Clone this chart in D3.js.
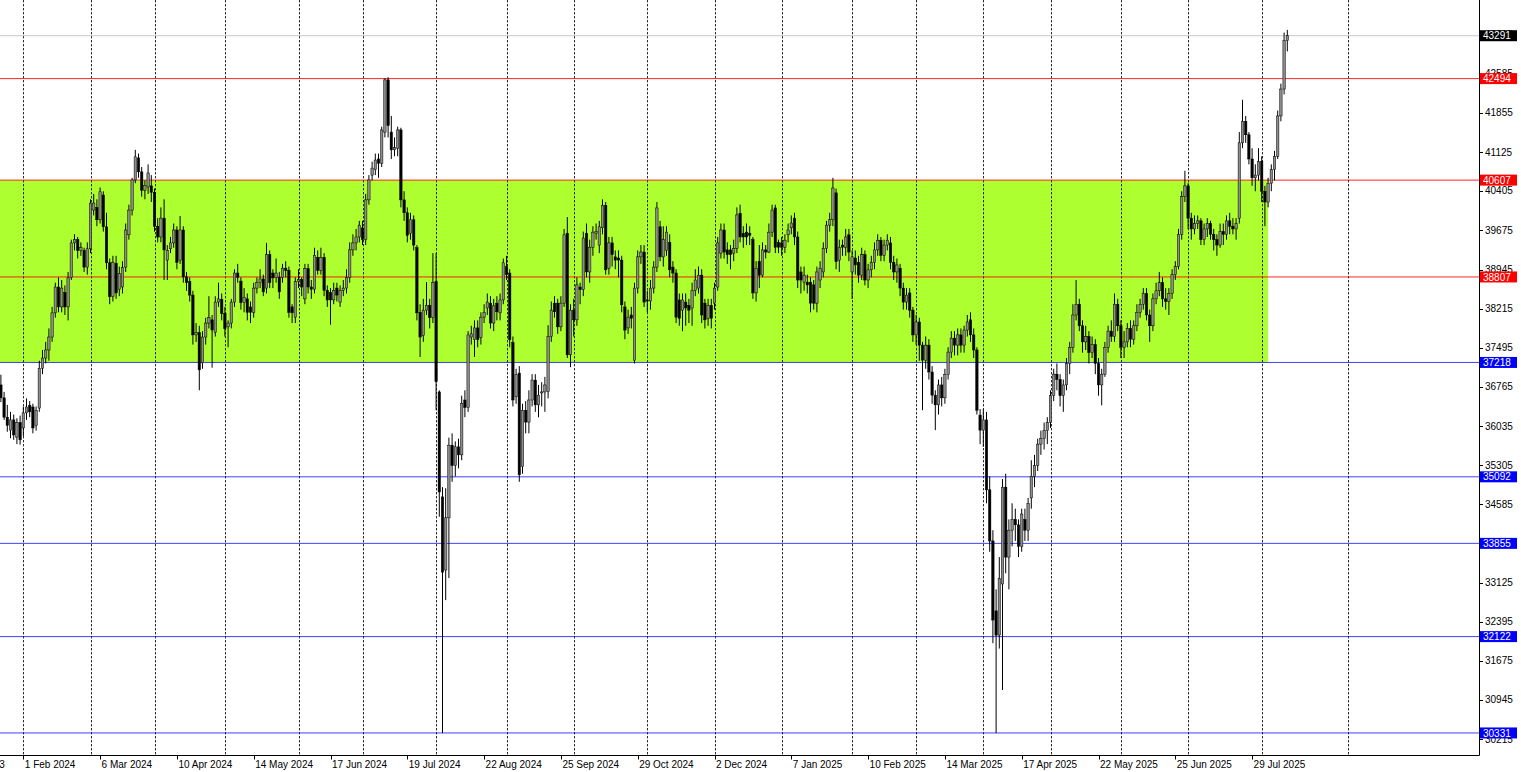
<!DOCTYPE html>
<html><head><meta charset="utf-8">
<script src="https://cdn.jsdelivr.net/npm/d3@7"></script>
<style>
body{margin:0;background:#fff;overflow:hidden}
svg{display:block}
text{font-family:"Liberation Sans",Arial,sans-serif;font-size:10px}
</style>
</head><body>
<svg id="chart" width="1521" height="772"></svg>
<script>
// ---------- DATA ----------
const firstDay = "2024-01-23";
const lastDay = "2025-08-13";
const holidays = ["2023-12-25","2024-01-01","2024-03-29","2024-12-25","2025-01-01","2025-04-18"];

// daily candles [open, high, low, close], one small array per month
const jan24 = [[36800,36990,36480,36560],[36560,36670,36150,36200],[36200,36430,35930,36050],[35960,36300,35810,36150],[36150,36250,35780,35870],[35830,36180,35700,36100],[36100,36230,35690,35780]];
const feb24 = [[36000,36400,35850,36280],[36280,36550,36150,36390],[36420,36500,36200,36300],[36390,36450,35900,36000],[36050,36400,35950,36330],[36370,37250,36300,37110],[37110,37450,37000,37300],[37300,37600,37200,37450],[37450,37850,37250,37690],[37690,38250,37600,38140],[38140,38700,38050,38620],[38620,38800,38150,38250],[38250,38750,38150,38600],[38520,38650,38100,38250],[38250,38900,38000,38790],[38800,39500,38750,39440],[39440,39600,39300,39500],[39500,39550,39150,39300],[39300,39450,39200,39350],[39300,39350,38900,38990],[38990,39450,38850,39330]];
const mar24 = [[39330,40250,39250,40180],[40050,40350,39950,40180],[40100,40250,39750,39870],[39870,40470,39800,40390],[40330,40400,39650,39740],[39740,40000,38950,39070],[39070,39150,38300,38440],[38440,39200,38350,39080],[39060,39200,38400,38510],[38580,39000,38450,38870],[38620,39100,38500,38980],[38990,39800,38900,39680],[39590,40150,39500,40050],[40050,40650,39950,40610],[40610,41170,40550,41040],[41020,41100,40650,40760],[40760,40850,40300,40420],[40420,40600,40250,40510],[40480,40900,40350,40740],[40500,40700,40200,40380]];
const apr24 = [[40380,40450,39650,39750],[39750,39900,39450,39550],[39550,40100,39450,39900],[39900,40250,38750,39310],[39120,39400,38750,39300],[39330,39550,39250,39440],[39440,39800,39350,39680],[39680,39750,38950,39080],[39120,39940,39050,39680],[39680,39750,38700,38810],[38810,38900,38550,38700],[38720,38800,38350,38470],[38470,38550,37550,37730],[37730,37950,37600,37770],[37770,37900,36700,37080],[37210,37800,37100,37690],[37690,38050,37550,37950],[37950,38450,37850,38050],[38010,38100,37120,37820],[37780,38450,37700,38340],[38340,38700,38250,38400],[38390,38500,38000,38130]];
const may24 = [[38130,38250,37700,37850],[37880,38000,37500,37950],[37950,38400,37850,38340],[38340,38950,38250,38880],[38880,39050,38700,38800],[38730,38800,38200,38330],[38330,38600,38150,38430],[38400,38500,38000,38150],[38250,38350,37950,38150],[38150,38700,38050,38600],[38600,38800,38500,38700],[38700,38950,38600,38770],[38770,38850,38450,38530],[38600,39440,38500,39220],[39220,39300,38600,38700],[38880,38950,38600,38790],[38800,39150,38700,38880],[38800,38900,38400,38530],[38800,39050,38700,38970],[38970,39100,38800,38930],[38930,39000,38050,38150],[38250,38300,37950,38140],[38060,38800,37950,38720]];
const jun24 = [[38720,38950,38600,38760],[38760,38800,38450,38620],[38400,39050,38300,38960],[38960,39050,38500,38620],[38620,38750,38400,38580],[38580,39350,38500,39210],[39170,39300,38850,38930],[38930,39350,38850,39170],[39170,39250,38450,38560],[38560,38650,38250,38380],[38520,38600,37920,38380],[38380,38700,38300,38560],[38600,38700,38350,38470],[38340,38650,38250,38560],[38560,38750,38450,38600],[38600,38950,38500,38800],[38800,39450,38700,39310],[39310,39600,39200,39440],[39440,39700,39300,39550],[39550,39850,39450,39770]];
const jul24 = [[39720,39850,39400,39500],[39500,40350,39400,40240],[40240,40700,40150,40610],[40700,40950,40600,40830],[40800,41100,40700,40980],[41000,41100,40650,40920],[40920,41600,40850,41540],[41500,42500,41400,42470],[42470,42520,41400,41620],[41500,41800,41000,41170],[41170,41400,41050,41210],[41200,41600,41050,41540],[41540,41580,40100,40240],[40240,40400,39850,40000],[40000,40100,39450,39580],[39620,40000,39500,39870],[39870,39950,39300,39400],[39350,39400,38000,38140],[38150,38300,37320,37690],[37720,38400,37600,38190],[38190,38710,38100,38280],[38280,38400,37850,38050],[38050,39250,37950,38700]];
const aug24 = [[38720,39250,36330,36860],[36670,36700,34350,34810],[34720,34900,30330,33320],[33360,34880,32800,34330],[34330,35820,33210,35680],[35680,35900,35000,35300],[35300,35750,35100,35650],[35650,35800,35250,35500],[35500,36600,35400,36460],[36520,36700,36200,36380],[36380,37800,36300,37730],[37690,37900,37550,37750],[37640,38000,37320,37860],[37860,38000,37500,37640],[37680,38150,37550,38060],[38060,38300,37950,38150],[38230,38500,38100,38340],[38320,38450,37850,37950],[37950,38400,37800,38270],[38320,38450,38000,38160],[38140,38500,38000,38380],[38380,39150,38300,39070]];
const sep24 = [[39000,39200,38750,38850],[38880,38950,37500,37640],[37590,37700,36400,36520],[36580,37100,36450,36990],[37020,37150,35000,35130],[35280,36450,35150,36330],[36330,36500,35900,36110],[36110,36700,35900,36520],[36520,37000,36400,36890],[36890,37000,36300,36430],[36430,36800,36200,36610],[36650,36850,36400,36670],[36670,36950,36300,36800],[36680,37910,36550,37700],[37700,38350,37600,38190],[38320,38450,38050,38160],[38320,38400,37750,37880],[37880,38450,37800,38320],[38320,39700,38250,39590],[39620,39920,37300,37360],[37360,38300,37130,38190]];
const oct24 = [[38190,38400,37700,38010],[38010,38800,37900,38660],[38620,38700,38300,38570],[38570,39650,38450,39530],[39620,39800,38800,38900],[38900,39500,38700,39360],[39360,39750,39200,39640],[39620,39800,39500,39650],[39400,39850,39250,39740],[39720,40250,39600,40140],[40140,40200,38850,38940],[38970,39550,38850,39440],[39440,39550,39000,39220],[39180,39300,38950,39120],[39160,39300,38800,39120],[39120,39200,38150,38290],[38250,38350,37650,37820],[37860,38200,37750,38060],[38100,38250,37850,38040],[37260,38700,37200,38600],[38600,39300,38500,39180],[39180,39400,39050,39270],[39270,39400,38250,38340]];
const nov24 = [[38380,38550,38150,38360],[38360,38750,38200,38600],[38600,39100,38500,38990],[38990,40200,38900,40090],[39740,39850,39100,39180],[39180,39750,39000,39500],[39300,39750,39200,39640],[39450,39600,38800,38940],[38990,39100,38700,38880],[38880,38950,37950,38060],[38380,38500,37900,38040],[38190,38500,37800,38380],[38340,38500,37900,38230],[38280,38400,37950,38190],[38230,38700,37900,38560],[38560,38950,38450,38750],[38600,39000,38500,38840],[38840,38950,37950,38100],[38320,38400,37850,38010],[38040,38400,37900,38280],[38280,38400,37850,38040]];
const dec24 = [[38320,38700,38200,38600],[38620,39550,38550,39440],[39250,39800,39150,39680],[39680,39800,39150,39270],[39310,39450,39050,39220],[39310,39400,38950,39220],[39250,39500,39100,39340],[39340,40100,39250,39960],[39990,40150,39450,39550],[39620,39750,39350,39550],[39640,39800,39400,39550],[39620,39750,39400,39580],[39500,39550,38400,38510],[38510,39100,38350,38970],[39100,39400,38600,38840],[38840,39450,38800,39310],[39310,39400,39150,39270],[39270,39800,39250,39640],[39640,40150,39550,40050],[40090,40150,39250,39360],[39450,39500,39250,39360]];
const jan25 = [[39440,39550,39200,39360],[39360,39600,39250,39490],[39590,39800,39450,39680],[39720,39950,39600,39810],[39900,40000,39400,39550],[39550,39650,38600,38750],[38900,39000,38500,38750],[38710,39000,38550,38840],[38710,38850,38500,38660],[38710,38800,38150,38320],[38660,38750,38200,38320],[38320,39000,38150,38900],[38750,39100,38600,38970],[38900,39450,38800,39340],[39340,39850,39250,39770],[39770,40000,39650,39870],[39870,40650,39750,40460],[40370,40450,38950,39090],[39120,39500,38900,39360],[39400,39500,39200,39360],[39360,39700,39200,39550],[39590,39700,39100,39270]];
const feb25 = [[38900,39300,38400,39180],[39160,39300,38850,39030],[39080,39200,38700,38840],[38840,39350,38750,39220],[39220,39300,38650,38750],[38750,39050,38600,38940],[38940,39200,38800,39080],[39080,39450,38950,39310],[39310,39600,39200,39490],[39490,39550,39100,39210],[39210,39500,39100,39400],[39400,39600,39300,39490],[39440,39550,38950,39080],[39080,39200,38750,38900],[38900,39150,38700,39030],[38970,39050,38450,38600],[38600,38700,38200,38340],[38340,38600,38200,38470],[38510,38600,38050,38190],[38190,38250,37600,37730]];
const mar25 = [[37730,38100,37550,37970],[37970,38050,37250,37540],[37540,37600,36330,37260],[37260,37700,37100,37540],[37540,37650,36900,37040],[37040,37150,36450,36610],[36610,36700,35960,36430],[36430,36900,36250,36800],[36800,36950,36400,36560],[36560,37100,36450,36990],[36990,37500,36900,37410],[37410,37800,37300,37670],[37670,37800,37350,37540],[37540,37850,37350,37730],[37730,37850,37400,37540],[37540,37900,37400,37820],[37820,38100,37700,37970],[38010,38150,37600,37730],[37730,37850,37300,37450],[37450,37500,36250,36330],[36240,36350,35700,35960]];
const apr25 = [[35960,36350,35650,36150],[36150,36300,34600,34850],[34850,35100,33700,33900],[33900,34100,32000,32430],[32600,33000,30330,32150],[32150,33600,31900,33200],[33100,35050,31130,34900],[34900,35150,33300,33600],[33600,34300,33000,34100],[34100,34600,33800,34300],[34300,34500,33900,34200],[34200,34300,33600,33800],[33800,34500,33700,34400],[34300,34500,33900,34100],[34100,34700,33900,34600],[34700,35400,34500,35100],[35100,35500,34900,35300],[35300,35800,35200,35700],[35700,35950,35500,35800],[35800,36100,35600,35950],[35950,36200,35700,36100]];
const may25 = [[36100,36700,36000,36600],[36600,37100,36500,37000],[37000,37200,36700,36900],[36900,37000,36400,36600],[36600,36900,36300,36800],[36800,37300,36700,37200],[37200,37600,37000,37500],[37500,38300,37400,38100],[38100,38750,38000,38300],[38300,38400,37800,37900],[37900,38000,37400,37600],[37600,37900,37450,37700],[37700,37800,37200,37400],[37400,37700,37300,37550],[37550,37650,37000,37200],[37200,37300,36600,36800],[36800,37100,36420,37000],[37000,37600,36950,37500],[37500,37900,37400,37800],[37800,38000,37600,37700],[37700,38500,37600,38300],[38300,38400,37800,37900]];
const jun25 = [[37900,38000,37300,37500],[37500,37800,37300,37600],[37600,37950,37500,37850],[37850,38000,37500,37650],[37650,38000,37550,37900],[37900,38300,37800,38150],[38150,38400,38050,38300],[38300,38600,38200,38500],[38500,38600,38000,38100],[38100,38200,37600,37900],[37900,38500,37800,38400],[38400,38700,38300,38550],[38550,38900,38450,38700],[38700,38800,38250,38400],[38400,38600,38200,38350],[38350,38600,38100,38500],[38500,38950,38400,38850],[38850,39100,38750,39000],[39000,39700,38950,39600],[39600,40400,39500,40300],[40300,40780,40200,40500]];
const jul25 = [[40500,40550,39700,39900],[39900,40000,39500,39700],[39700,39950,39600,39800],[39800,39950,39700,39850],[39850,39900,39400,39500],[39500,39800,39400,39700],[39700,39900,39550,39800],[39800,39850,39500,39600],[39600,39700,39300,39500],[39500,39600,39200,39400],[39400,39800,39350,39650],[39650,39800,39400,39600],[39600,39950,39500,39850],[39850,40000,39600,39750],[39750,39900,39600,39700],[39700,39900,39500,39800],[39900,41500,39800,41300],[41300,42100,41200,41700],[41700,41800,41300,41450],[41450,41500,40900,41000],[41000,41200,40500,40650],[40650,40900,40400,40700],[40700,41200,40600,40950]];
const aug25 = [[40950,41050,40200,40400],[40400,40500,39750,40200],[40200,40650,40100,40550],[40550,40900,40400,40800],[40800,41150,40600,41050],[41050,41900,41000,41800],[41800,42400,41700,42300],[42300,43350,42200,43200],[43200,43400,43000,43291]];

const lastPrice = 43291;
const resistanceLevels = [42494, 40607, 38807];
const supportLevels = [37218, 35092, 33855, 32122, 30331];
const zoneBounds = [37218, 40607];
const zoneEndDay = "2025-08-05";
const priceTicks = [43315, 42585, 41855, 41125, 40405, 39675, 38945, 38215, 37495, 36765, 36035, 35305, 34585, 33855, 33125, 32395, 31675, 30945, 30215];
const dateTickDays = ["2023-12-28","2024-02-01","2024-03-06","2024-04-10","2024-05-14","2024-06-17","2024-07-19","2024-08-22","2024-09-25","2024-10-29","2024-12-02","2025-01-07","2025-02-10","2025-03-14","2025-04-17","2025-05-22","2025-06-25","2025-07-29"];
const futureSeparatorDay = "2025-09-01";

// ---------- CALENDAR ----------
const iso = d3.utcFormat("%Y-%m-%d");
const parse = d3.utcParse("%Y-%m-%d");
const calendar = d3.utcDays(parse("2023-12-01"), d3.utcDay.offset(parse(lastDay), 1))
  .filter(d => d.getUTCDay() !== 0 && d.getUTCDay() !== 6 && !holidays.includes(iso(d)));
const calIso = calendar.map(iso);
const idx = s => calIso.indexOf(s);

const rows = [jan24,feb24,mar24,apr24,may24,jun24,jul24,aug24,sep24,oct24,nov24,dec24,
              jan25,feb25,mar25,apr25,may25,jun25,jul25,aug25].flat();
const start = idx(firstDay);
const bars = rows.map((r, i) => ({i: start + i, o: r[0], h: r[1], l: r[2], c: r[3]}));
const lastIdx = idx(lastDay);

// ---------- LAYOUT ----------
const W = 1521, H = 772;
const plotRight = 1479.5, plotBottom = 755.5;
const x = d3.scaleLinear().domain([idx("2024-02-01"), idx("2025-08-01")]).range([23.3, 1261.7]);
const y = d3.scaleLinear().domain([30215, 42585]).range([739.2, 73.7]);
// beyond the last bar the terminal counts calendar days
const xFuture = d3.scaleUtc()
  .domain([parse(lastDay), d3.utcDay.offset(parse(lastDay), 1)])
  .range([x(lastIdx), x(lastIdx + 1)]);

const svg = d3.select("#chart");
svg.append("rect").attr("width", W).attr("height", H).attr("fill", "#fff");
const plot = svg.append("g");
plot.append("clipPath").attr("id", "clip").append("rect")
  .attr("x", 0).attr("y", 0).attr("width", plotRight).attr("height", plotBottom);
const g = plot.append("g").attr("clip-path", "url(#clip)");

// green zone
g.append("rect")
  .attr("x", 0).attr("width", x(idx(zoneEndDay)))
  .attr("y", y(zoneBounds[1])).attr("height", y(zoneBounds[0]) - y(zoneBounds[1]))
  .attr("fill", "#adff2f");

// monthly period separators
const sepX = [];
for (let k = 1; k < calendar.length; k++) {
  if (calendar[k].getUTCMonth() !== calendar[k-1].getUTCMonth()) sepX.push(x(k));
}
sepX.push(xFuture(parse(futureSeparatorDay)));
g.selectAll("line.sep").data(sepX).join("line").attr("class", "sep")
  .attr("x1", d => Math.round(d) + 0.5).attr("x2", d => Math.round(d) + 0.5)
  .attr("y1", 0).attr("y2", plotBottom)
  .attr("stroke", "#2a2a2a").attr("stroke-width", 1).attr("stroke-dasharray", "2.4,1.6");

// horizontal levels
g.append("line").attr("x1", 0).attr("x2", plotRight)
  .attr("y1", y(lastPrice)).attr("y2", y(lastPrice)).attr("stroke", "#c8c8c8");
g.selectAll("line.res").data(resistanceLevels).join("line").attr("class", "res")
  .attr("x1", 0).attr("x2", plotRight).attr("y1", d => y(d)).attr("y2", d => y(d))
  .attr("stroke", "#ff0000").attr("stroke-opacity", 0.85);
g.selectAll("line.sup").data(supportLevels).join("line").attr("class", "sup")
  .attr("x1", 0).attr("x2", plotRight).attr("y1", d => y(d)).attr("y2", d => y(d))
  .attr("stroke", "#0000ff").attr("stroke-opacity", 0.75);

// candles
const bw = 2.4;
const cg = g.append("g");
cg.selectAll("line.wick").data(bars).join("line").attr("class", "wick")
  .attr("x1", d => x(d.i)).attr("x2", d => x(d.i))
  .attr("y1", d => y(d.h)).attr("y2", d => y(d.l))
  .attr("stroke", "#000").attr("stroke-width", 1);
cg.selectAll("rect.body").data(bars).join("rect").attr("class", "body")
  .attr("x", d => x(d.i) - bw/2).attr("width", bw)
  .attr("y", d => y(Math.max(d.o, d.c)))
  .attr("height", d => Math.max(1, Math.abs(y(d.o) - y(d.c))))
  .attr("fill", d => d.c >= d.o ? "#8c8c8c" : "#000")
  .attr("stroke", "#000").attr("stroke-width", 0.5);

// axes frame
svg.append("line").attr("x1", plotRight).attr("x2", plotRight).attr("y1", 0).attr("y2", plotBottom)
  .attr("stroke", "#000");
svg.append("line").attr("x1", 0).attr("x2", plotRight).attr("y1", plotBottom).attr("y2", plotBottom)
  .attr("stroke", "#000");

// price ticks
const pt = svg.append("g");
pt.selectAll("line").data(priceTicks).join("line")
  .attr("x1", plotRight).attr("x2", plotRight + 3.5)
  .attr("y1", d => Math.round(y(d)) + 0.5).attr("y2", d => Math.round(y(d)) + 0.5)
  .attr("stroke", "#000");
pt.selectAll("text").data(priceTicks).join("text")
  .attr("x", 1485).attr("y", d => y(d)).attr("dy", "0.35em")
  .attr("fill", "#000").text(d => d);

// level boxes
const boxes = [{v: lastPrice, col: "#000"}]
  .concat(resistanceLevels.map(v => ({v, col: "#ff0000"})))
  .concat(supportLevels.map(v => ({v, col: "#0000ff"})));
const bg = svg.append("g");
bg.selectAll("rect").data(boxes).join("rect")
  .attr("x", 1480).attr("width", 37).attr("y", d => y(d.v) - 5.5).attr("height", 11)
  .attr("fill", d => d.col);
bg.selectAll("text").data(boxes).join("text")
  .attr("x", 1483).attr("y", d => y(d.v)).attr("dy", "0.36em")
  .attr("fill", "#fff").text(d => d.v);

// date ticks
const fmt = d3.utcFormat("%-d %b %Y");
const dt = svg.append("g");
dt.selectAll("line").data(dateTickDays).join("line")
  .attr("x1", d => Math.round(x(idx(d))) + 0.5).attr("x2", d => Math.round(x(idx(d))) + 0.5)
  .attr("y1", plotBottom).attr("y2", plotBottom + 4).attr("stroke", "#000");
dt.selectAll("text").data(dateTickDays).join("text")
  .attr("x", d => x(idx(d)) + 1.5).attr("y", 768)
  .attr("fill", "#000").text(d => fmt(parse(d)));
</script>
</body></html>
